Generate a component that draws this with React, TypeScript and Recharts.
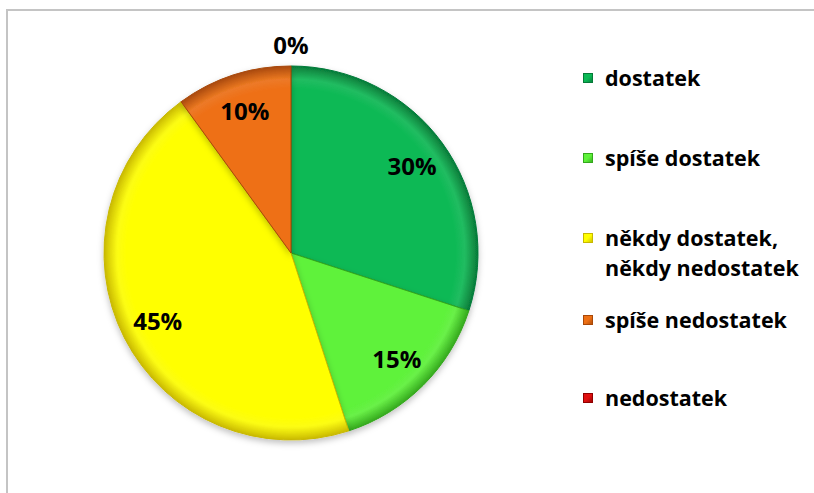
import React from "react";
import { PieChart, Pie, Cell, Legend } from "recharts";

const categories = [
  "dostatek",
  "spíše dostatek",
  "někdy dostatek, někdy nedostatek",
  "spíše nedostatek",
  "nedostatek",
];
const values = [30, 15, 45, 10, 0];
const colors = ["#0BB955", "#5EF23A", "#FFFF00", "#EE7014", "#E01010"];
const rimColors = ["#067A38", "#34A81C", "#C8B800", "#A84808", "#900000"];

const data = categories.map((name, i) => ({ name, value: values[i] }));

const CX = 291;
const CY = 253;
const R = 187;
const RAD = Math.PI / 180;
const FONT = "'Open Sans', Lato, 'DejaVu Sans', sans-serif";

const renderLabel = (props: any) => {
  const { cx, cy, midAngle, outerRadius, value } = props;
  const r = value === 0 ? outerRadius + 22 : outerRadius * 0.8;
  const x = cx + r * Math.cos(-midAngle * RAD);
  const y = cy + r * Math.sin(-midAngle * RAD);
  return (
    <text
      x={x}
      y={y}
      textAnchor="middle"
      dominantBaseline="central"
      fill="#000"
      fontFamily={FONT}
      fontWeight={700}
      fontSize={24}
    >
      {`${value}%`}
    </text>
  );
};

const itemGaps = [0, 50, 50, 22, 48];

const renderLegend = () => {
  return (
    <div style={{ fontFamily: FONT, fontWeight: 700, fontSize: 21.5, lineHeight: "30px", color: "#000" }}>
      {categories.map((name, i) => (
        <div key={i} style={{ display: "flex", alignItems: "flex-start", marginTop: itemGaps[i] }}>
          <div
            style={{
              width: 10,
              height: 10,
              marginTop: 10,
              marginRight: 12,
              flex: "0 0 auto",
              background: `linear-gradient(135deg, ${colors[i]} 0%, ${colors[i]} 50%, ${rimColors[i]} 100%)`,
              boxShadow: `inset 0 0 0 1px ${rimColors[i]}`,
            }}
          />
          <div style={{ width: 215 }}>{name}</div>
        </div>
      ))}
    </div>
  );
};

export default function App() {
  return (
    <div style={{ position: "absolute", left: 0, top: 0, width: 814, height: 493, background: "#fff", overflow: "hidden" }}>
      <div
        style={{
          position: "absolute",
          left: 6,
          top: 9,
          width: 808,
          height: 484,
          borderLeft: "2px solid #c4c4c4",
          borderTop: "2px solid #c4c4c4",
          boxSizing: "border-box",
        }}
      />
      <div style={{ position: "absolute", left: 0, top: 0 }}>
        <PieChart width={814} height={493} margin={{ top: 0, right: 0, bottom: 0, left: 0 }}>
          <defs>
            {colors.map((c, i) => (
              <radialGradient key={i} id={`g${i}`} cx={CX} cy={CY} r={R} gradientUnits="userSpaceOnUse">
                <stop offset="0%" stopColor={c} />
                <stop offset="88%" stopColor={c} />
                <stop offset="93%" stopColor={c} stopOpacity={0.9} />
                <stop offset="100%" stopColor={rimColors[i]} />
              </radialGradient>
            ))}
            <filter id="sh" x="-20%" y="-20%" width="140%" height="140%">
              <feDropShadow dx="0" dy="3" stdDeviation="3" floodColor="#000" floodOpacity="0.25" />
            </filter>
          </defs>
          <Pie
            data={data}
            dataKey="value"
            nameKey="name"
            cx={CX}
            cy={CY}
            outerRadius={R}
            startAngle={90}
            endAngle={-270}
            label={renderLabel}
            labelLine={false}
            isAnimationActive={false}
            stroke="#4a3a10"
            strokeWidth={1}
            style={{ filter: "url(#sh)" }}
          >
            {data.map((_, i) => (
              <Cell key={i} fill={`url(#g${i})`} stroke={rimColors[i]} />
            ))}
          </Pie>
          <Legend
            layout="vertical"
            align="right"
            verticalAlign="top"
            content={renderLegend}
            wrapperStyle={{ left: 583, top: 63, width: 230 }}
          />
        </PieChart>
      </div>
    </div>
  );
}
